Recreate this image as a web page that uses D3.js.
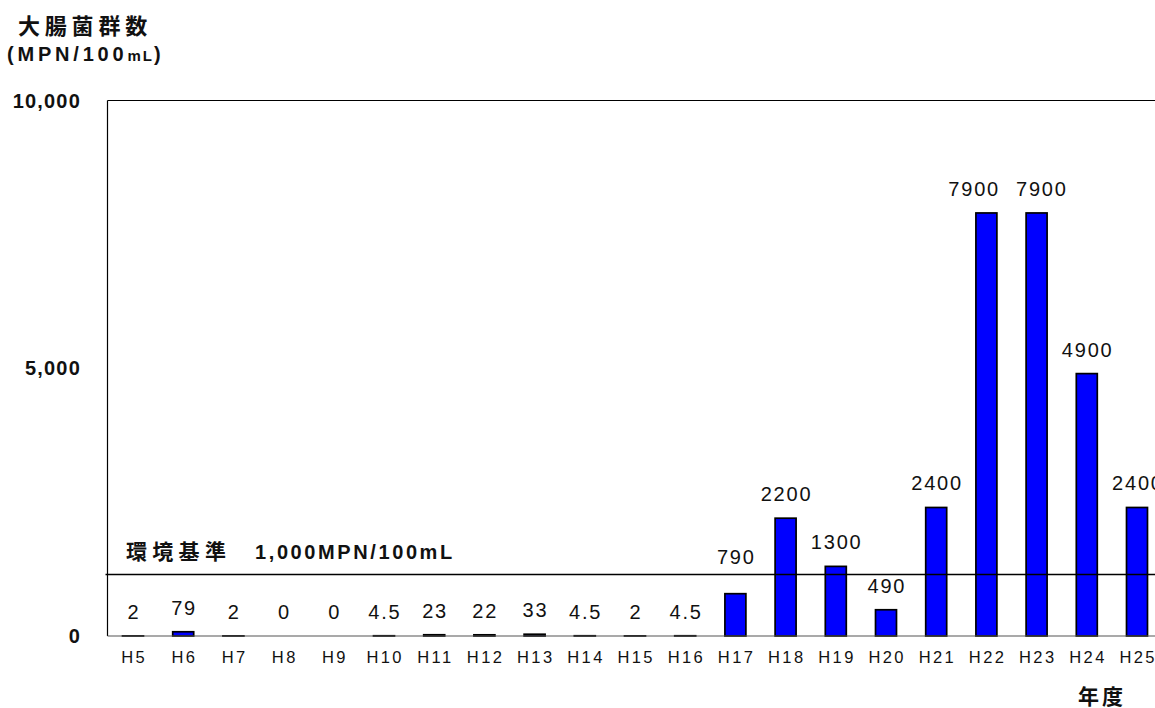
<!DOCTYPE html>
<html>
<head>
<meta charset="utf-8">
<script src="https://cdn.jsdelivr.net/npm/d3@7"></script>
<style>
  html, body { margin: 0; padding: 0; background: #fff; }
  svg { display: block; }
  text { font-family: "Liberation Sans", Arial, "Noto Sans CJK JP", sans-serif; fill: #111; }
  .cjk { font-family: "Noto Sans CJK JP", "Liberation Sans", sans-serif; }
</style>
</head>
<body>
<svg id="chart" width="1155" height="708"></svg>
<script>
// ---- data ----
const years = ["H5","H6","H7","H8","H9","H10","H11","H12","H13","H14","H15","H16","H17","H18","H19","H20","H21","H22","H23","H24","H25"];
const values = [2, 79, 2, 0, 0, 4.5, 23, 22, 33, 4.5, 2, 4.5, 790, 2200, 1300, 490, 2400, 7900, 7900, 4900, 2400];
const valueLabels = ["2","79","2","0","0","4.5","23","22","33","4.5","2","4.5","790","2200","1300","490","2400","7900","7900","4900","2400"];
const yTicks = [0, 5000, 10000];
const yDomain = [0, 10000];
const standardName = "環境基準";
const standardValue = "1,000MPN/100mL";
const standardLineLevel = 1150; // where the line sits in the picture
const yTitle = "大腸菌群数";
const xTitle = "年度";

// ---- layout ----
const svg = d3.select("#chart");
const plotLeft = 107.5, plotTop = 100.5, plotBottom = 636, plotRight = 1162;

const x = d3.scaleBand().domain(years).range([107.9, 1162.1]).paddingInner(0.582).paddingOuter(0.291);
const y = d3.scaleLinear().domain(yDomain).range([plotBottom, plotTop]);

// frame: left, top, right
svg.append("line").attr("x1", plotLeft).attr("x2", plotLeft).attr("y1", plotTop).attr("y2", plotBottom)
  .attr("stroke", "#000").attr("stroke-width", 1.2);
svg.append("line").attr("x1", plotLeft).attr("x2", plotRight).attr("y1", plotTop).attr("y2", plotTop)
  .attr("stroke", "#000").attr("stroke-width", 1.2);
svg.append("line").attr("x1", plotRight).attr("x2", plotRight).attr("y1", plotTop).attr("y2", plotBottom)
  .attr("stroke", "#000").attr("stroke-width", 1.2);

// bars
svg.append("g").selectAll("rect").data(values).join("rect")
  .attr("x", (d, i) => x(years[i]))
  .attr("y", d => y(d))
  .attr("width", x.bandwidth())
  .attr("height", d => plotBottom - y(d))
  .attr("fill", "#0000ff")
  .attr("stroke", "#000")
  .attr("stroke-width", 1.7);

// baseline
svg.append("line").attr("x1", plotLeft).attr("x2", plotRight).attr("y1", plotBottom).attr("y2", plotBottom)
  .attr("stroke", "#555").attr("stroke-width", 1.2);

// standard line
const lineY = y(standardLineLevel);
svg.append("line").attr("x1", plotLeft - 2).attr("x2", plotRight).attr("y1", lineY).attr("y2", lineY)
  .attr("stroke", "#000").attr("stroke-width", 1.5);
const std = svg.append("text").attr("y", 559).attr("font-weight", "bold");
std.append("tspan").attr("class", "cjk").attr("x", 126).attr("font-size", 21).attr("letter-spacing", 5.3).text(standardName);
std.append("tspan").attr("x", 255).attr("font-size", 20).attr("letter-spacing", 2.6).text(standardValue);

// value labels (lifted above the standard line if they would cross it)
const labels = svg.append("g").selectAll("text").data(values).join("text")
  .attr("x", (d, i) => x(years[i]) + x.bandwidth() / 2 + 0.9)
  .attr("y", d => {
    let base = y(d) - 17;
    const top = base - 14;
    if (base > lineY && top < lineY + 1) base = lineY - 10;
    return base;
  })
  .attr("text-anchor", "middle")
  .attr("font-size", 20).attr("letter-spacing", 1.8)
  .text((d, i) => valueLabels[i]);

// resolve overlaps between neighbouring labels on the same line
const nodes = labels.nodes();
for (let i = 0; i < nodes.length - 1; i++) {
  const a = nodes[i], b = nodes[i + 1];
  if (Math.abs(+a.getAttribute("y") - +b.getAttribute("y")) > 10) continue;
  const wa = a.getComputedTextLength(), wb = b.getComputedTextLength();
  const xa = +a.getAttribute("x"), xb = +b.getAttribute("x");
  const need = (wa + wb) / 2 + 16 - (xb - xa);
  if (need > 0) {
    a.setAttribute("x", xa - need * 0.75);
    b.setAttribute("x", xb + need * 0.25);
  }
}

// x axis labels
svg.append("g").selectAll("text").data(years).join("text")
  .attr("x", d => x(d) + x.bandwidth() / 2 + 1.2)
  .attr("y", 662.5)
  .attr("text-anchor", "middle")
  .attr("font-size", 16.5).attr("letter-spacing", 2.4)
  .text(d => d);

// y axis tick labels
const fmt = d3.format(",");
svg.append("g").selectAll("text").data(yTicks).join("text")
  .attr("x", 81)
  .attr("y", d => y(d) + 7)
  .attr("text-anchor", "end")
  .attr("font-size", 20).attr("font-weight", "bold").attr("letter-spacing", 1.2)
  .text(d => fmt(d));

// y title
svg.append("text").attr("class", "cjk").attr("x", 18).attr("y", 34)
  .attr("font-size", 22).attr("font-weight", "bold").attr("letter-spacing", 4.8)
  .text(yTitle);
const unit = svg.append("text").attr("x", 7).attr("y", 61)
  .attr("font-size", 20).attr("font-weight", "bold").attr("letter-spacing", 3.8);
unit.append("tspan").text("(MPN/100");
unit.append("tspan").attr("font-size", 15).attr("letter-spacing", 2).text("mL");
unit.append("tspan").attr("font-size", 20).text(")");

// x title
svg.append("text").attr("class", "cjk").attr("x", 1078).attr("y", 704)
  .attr("font-size", 21).attr("font-weight", "bold").attr("letter-spacing", 3)
  .text(xTitle);
</script>
</body>
</html>
